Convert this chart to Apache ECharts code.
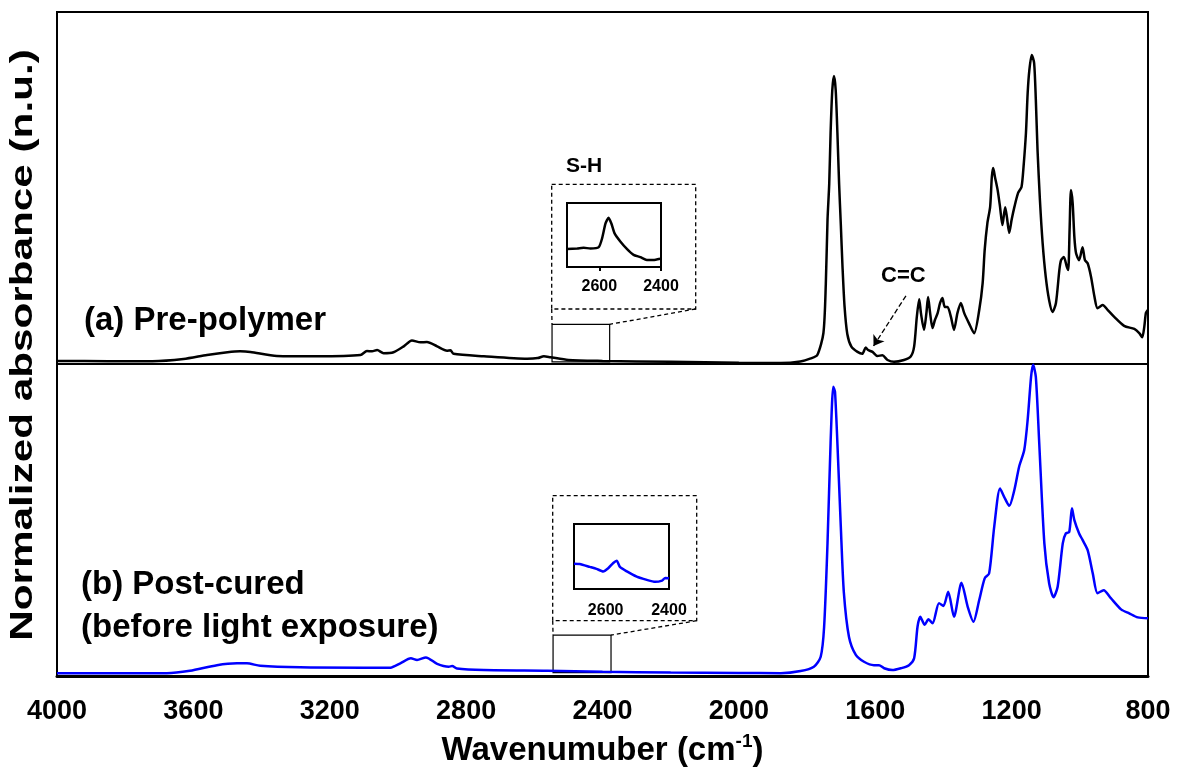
<!DOCTYPE html>
<html>
<head>
<meta charset="utf-8">
<title>FTIR spectra</title>
<script src="https://cdn.jsdelivr.net/npm/echarts@6/dist/echarts.min.js"></script>
<style>
    html, body { margin: 0; padding: 0; background: #fff; }
    #chart { width: 1177px; height: 771px; }
</style>
</head>
<body>
<div id="chart"></div>
<script>
// ============================================
// Data (absorbance normalized to the main peak)
// ============================================
const preWavenumber = [4000, 3850, 3720, 3629, 3560, 3500, 3463, 3433, 3355, 3238, 3110, 3091, 3076, 3061, 3042, 3013,
    2983, 2959, 2934, 2915, 2885, 2856, 2846, 2837, 2748, 2621, 2590, 2572, 2553, 2500, 2400, 2200, 2000, 1877,
    1820, 1789, 1770, 1752, 1745, 1740, 1735, 1731, 1726, 1721, 1716, 1711, 1706, 1701, 1696, 1690, 1682, 1670,
    1652, 1638, 1628, 1621, 1608, 1594, 1579, 1564, 1545, 1516, 1496, 1486, 1478, 1471, 1466, 1457, 1450, 1445,
    1439, 1432, 1425, 1417, 1410, 1403, 1396, 1388, 1378, 1369, 1359, 1349, 1339, 1325, 1310, 1295, 1285, 1279,
    1271, 1263, 1258, 1254, 1249, 1241, 1234, 1227, 1219, 1214, 1207, 1200, 1192, 1181, 1171, 1165, 1158, 1153,
    1148, 1141, 1134, 1129, 1124, 1117, 1109, 1100, 1090, 1080, 1070, 1060, 1055, 1047, 1038, 1034, 1030, 1026,
    1021, 1016, 1011, 1002, 992, 985, 977, 967, 957, 948, 933, 918, 899, 870, 840, 825, 817, 811, 806, 800];
const preAbsorbance = [0.010, 0.009, 0.009, 0.016, 0.029, 0.038, 0.041, 0.039, 0.026, 0.025, 0.029, 0.042, 0.041, 0.045, 0.035, 0.038,
    0.057, 0.076, 0.070, 0.071, 0.057, 0.043, 0.044, 0.033, 0.025, 0.017, 0.019, 0.025, 0.022, 0.013, 0.010, 0.007, 0.004, 0.003,
    0.008, 0.018, 0.029, 0.100, 0.258, 0.465, 0.581, 0.745, 0.884, 0.929, 0.884, 0.745, 0.581, 0.450, 0.313, 0.185, 0.097, 0.056,
    0.039, 0.033, 0.053, 0.045, 0.039, 0.026, 0.028, 0.013, 0.007, 0.013, 0.024, 0.056, 0.153, 0.209, 0.164, 0.110, 0.164, 0.216,
    0.164, 0.116, 0.142, 0.164, 0.196, 0.213, 0.184, 0.184, 0.152, 0.110, 0.164, 0.197, 0.164, 0.131, 0.099, 0.174, 0.261, 0.368,
    0.455, 0.507, 0.604, 0.632, 0.604, 0.561, 0.507, 0.448, 0.506, 0.475, 0.423, 0.465, 0.506, 0.552, 0.571, 0.637, 0.745, 0.873,
    0.948, 0.997, 0.971, 0.852, 0.690, 0.529, 0.389, 0.282, 0.206, 0.168, 0.197, 0.303, 0.335, 0.345, 0.313, 0.303, 0.432, 0.561,
    0.519, 0.410, 0.357, 0.335, 0.377, 0.335, 0.325, 0.281, 0.217, 0.180, 0.190, 0.174, 0.152, 0.123, 0.113, 0.099, 0.086, 0.119, 0.165, 0.175];

const postWavenumber = [4000, 3800, 3678, 3610, 3531, 3472, 3443, 3404, 3287, 3100, 3022, 2993, 2962, 2944, 2918, 2885,
    2851, 2841, 2827, 2748, 2562, 2400, 2200, 2000, 1877, 1819, 1780, 1760, 1750, 1740, 1731, 1723, 1718, 1709,
    1701, 1692, 1677, 1657, 1633, 1604, 1589, 1574, 1550, 1525, 1501, 1486, 1476, 1468, 1455, 1444, 1432, 1413,
    1400, 1386, 1369, 1347, 1329, 1312, 1295, 1279, 1266, 1251, 1234, 1222, 1207, 1192, 1178, 1163, 1153, 1143,
    1137, 1129, 1119, 1104, 1090, 1077, 1065, 1050, 1041, 1031, 1023, 1016, 1002, 992, 977, 962, 948, 930, 909,
    879, 855, 830, 800];
const postAbsorbance = [0.009, 0.009, 0.009, 0.017, 0.035, 0.041, 0.041, 0.033, 0.028, 0.027, 0.027, 0.041, 0.057, 0.052, 0.060, 0.039,
    0.030, 0.032, 0.024, 0.019, 0.017, 0.014, 0.011, 0.010, 0.009, 0.016, 0.030, 0.062, 0.158, 0.429, 0.752, 0.933, 0.916, 0.697,
    0.481, 0.268, 0.126, 0.068, 0.046, 0.035, 0.035, 0.025, 0.019, 0.025, 0.035, 0.057, 0.159, 0.191, 0.165, 0.183, 0.170, 0.235,
    0.226, 0.272, 0.191, 0.301, 0.224, 0.175, 0.245, 0.315, 0.331, 0.482, 0.605, 0.578, 0.549, 0.600, 0.675, 0.729, 0.826, 0.965,
    1.004, 0.965, 0.751, 0.428, 0.299, 0.254, 0.288, 0.428, 0.460, 0.465, 0.541, 0.503, 0.460, 0.439, 0.406, 0.331, 0.267, 0.277, 0.251,
    0.215, 0.202, 0.189, 0.186];

// S-H region insets
const insetPreWavenumber = [2705, 2672, 2651, 2629, 2602, 2591, 2580, 2570, 2561, 2551, 2532, 2510, 2489, 2467, 2446, 2425, 2403];
const insetPreAbsorbance = [0.28, 0.29, 0.30, 0.29, 0.31, 0.45, 0.68, 0.77, 0.68, 0.53, 0.40, 0.28, 0.19, 0.155, 0.11, 0.11, 0.13];
const insetPostWavenumber = [2700, 2682, 2650, 2629, 2608, 2592, 2576, 2565, 2555, 2533, 2502, 2470, 2444, 2422, 2412, 2400];
const insetPostAbsorbance = [0.39, 0.385, 0.34, 0.31, 0.27, 0.32, 0.40, 0.435, 0.34, 0.27, 0.19, 0.14, 0.11, 0.13, 0.17, 0.165];
const insetTicks = [2600, 2400];

// zoom windows marked on the main spectra: [wnFrom, wnTo, absLow, absHigh]
const zoomWindowPre = [2548, 2379, 0.007, 0.128];
const zoomWindowPost = [2545, 2375, 0.011, 0.132];

// C=C arrow: from label to band
const ccArrowFrom = [1510, 0.22];
const ccArrowTo = [1605, 0.058];

// ============================================
// Chart
// ============================================
const FONT = '"Liberation Sans", Arial, sans-serif';
const BLUE = '#0000ff';

const pairs = (xs, ys) => xs.map((x, i) => [x, ys[i]]);

function zoomArea(w) {
    return {
        silent: true,
        itemStyle: { color: 'rgba(0,0,0,0)', borderColor: '#000', borderWidth: 1.2 },
        data: [[{ coord: [w[0], w[3]] }, { coord: [w[1], w[2]] }]]
    };
}

function insetAxis(gridIndex, max, showTick, margin) {
    return {
        gridIndex, type: 'value', min: 2400, max, interval: 200, inverse: true,
        axisLine: { show: false },
        axisTick: {
            show: showTick, inside: false, length: 4, customValues: insetTicks,
            lineStyle: { color: '#000', width: 2 }
        },
        splitLine: { show: false },
        axisLabel: {
            color: '#000', fontSize: 16, fontWeight: 'bold', fontFamily: FONT, margin,
            customValues: insetTicks,
            formatter: v => String(v)
        }
    };
}

const option = {
    animation: false,
    backgroundColor: '#fff',
    grid: [
        { left: 57, right: 29, top: 12, height: 352, show: true, borderColor: '#000', borderWidth: 2 },
        { left: 57, right: 29, top: 364, bottom: 95, show: true, borderColor: '#000', borderWidth: 2 },
        { left: 567, top: 203, width: 94, height: 64, show: true, borderColor: '#000', borderWidth: 2 },
        { left: 574, top: 524, width: 95, height: 65, show: true, borderColor: '#000', borderWidth: 2 }
    ],
    xAxis: [
        { gridIndex: 0, type: 'value', min: 800, max: 4000, inverse: true, show: false },
        {
            gridIndex: 1, type: 'value', min: 800, max: 4000, interval: 400, inverse: true,
            axisLine: { lineStyle: { color: '#000', width: 3 } },
            axisTick: { show: false },
            splitLine: { show: false },
            axisLabel: {
                color: '#000', fontSize: 27, fontWeight: 'bold', fontFamily: FONT, margin: 22,
                formatter: v => String(v)
            },
            name: '{a|Wavenumuber (cm}{s|-1}{a|)}',
            nameLocation: 'middle',
            nameGap: 56,
            nameTextStyle: {
                rich: {
                    a: { fontSize: 33, fontWeight: 'bold', fontFamily: FONT, color: '#000', lineHeight: 38 },
                    s: { fontSize: 19, fontWeight: 'bold', fontFamily: FONT, color: '#000', lineHeight: 20, verticalAlign: 'top' }
                }
            }
        },
        insetAxis(2, 2705, true, 12),
        insetAxis(3, 2700, false, 14)
    ],
    yAxis: [
        { gridIndex: 0, type: 'value', min: 0, max: 352 / 310, show: false },
        { gridIndex: 1, type: 'value', min: 0, max: 312 / 310, show: false },
        { gridIndex: 2, type: 'value', min: 0, max: 1, show: false },
        { gridIndex: 3, type: 'value', min: 0, max: 1, show: false }
    ],
    series: [
        {
            name: 'Pre-polymer', type: 'line', xAxisIndex: 0, yAxisIndex: 0,
            data: pairs(preWavenumber, preAbsorbance),
            showSymbol: false, smooth: 0.25,
            lineStyle: { color: '#000', width: 2.5 },
            markArea: zoomArea(zoomWindowPre),
            markLine: {
                silent: true,
                symbol: ['none', 'arrow'],
                symbolSize: 10,
                label: { show: false },
                lineStyle: { color: '#000', type: 'dashed', width: 1.3 },
                data: [[{ coord: ccArrowFrom }, { coord: ccArrowTo }]]
            }
        },
        {
            name: 'Post-cured', type: 'line', xAxisIndex: 1, yAxisIndex: 1,
            data: pairs(postWavenumber, postAbsorbance),
            showSymbol: false, smooth: 0.25,
            lineStyle: { color: BLUE, width: 2.5 },
            markArea: zoomArea(zoomWindowPost)
        },
        {
            name: 'S-H pre', type: 'line', xAxisIndex: 2, yAxisIndex: 2,
            data: pairs(insetPreWavenumber, insetPreAbsorbance),
            showSymbol: false, smooth: 0.2,
            lineStyle: { color: '#000', width: 2.5 }
        },
        {
            name: 'S-H post', type: 'line', xAxisIndex: 3, yAxisIndex: 3,
            data: pairs(insetPostWavenumber, insetPostAbsorbance),
            showSymbol: false, smooth: 0.2,
            lineStyle: { color: BLUE, width: 2.5 }
        }
    ]
};

const chart = echarts.init(document.getElementById('chart'), null, { renderer: 'canvas' });
chart.setOption(option);

// ============================================
// Annotations: labels, dashed inset frames and connectors
// ============================================
function label(text, x, y, size, extra) {
    return Object.assign({
        type: 'text', x, y, z: 20,
        style: {
            text, fill: '#000', fontSize: size, fontWeight: 'bold', fontFamily: FONT,
            textAlign: 'left', textVerticalAlign: 'middle', align: 'left', verticalAlign: 'middle'
        }
    }, extra || {});
}

const dash = { stroke: '#000', lineWidth: 1.3, lineDash: [4, 3], fill: 'none' };

function insetFrame(box, win, gridIndex) {
    const tl = chart.convertToPixel({ gridIndex }, [win[0], win[3]]);
    const tr = chart.convertToPixel({ gridIndex }, [win[1], win[3]]);
    const bottom = box.y + box.h;
    return [
        { type: 'rect', z: 20, shape: { x: box.x, y: box.y, width: box.w, height: box.h }, style: dash },
        { type: 'line', z: 20, shape: { x1: box.x, y1: bottom, x2: tl[0], y2: tl[1] }, style: dash },
        { type: 'line', z: 20, shape: { x1: box.x + box.w, y1: bottom, x2: tr[0], y2: tr[1] }, style: dash }
    ];
}

chart.setOption({
    graphic: [
        ...insetFrame({ x: 551.7, y: 184.3, w: 144, h: 124.7 }, zoomWindowPre, 0),
        ...insetFrame({ x: 552.7, y: 495.7, w: 144, h: 125 }, zoomWindowPost, 1),
        label('S-H', 566, 166, 21),
        label('C=C', 881, 276, 22),
        label('(a) Pre-polymer', 84, 321, 33),
        label('(b) Post-cured', 81, 585, 33),
        label('(before light exposure)', 81, 628, 33),
        {
            type: 'text', x: 23, y: 345, rotation: Math.PI / 2, scaleX: 1.32, z: 20,
            style: {
                text: 'Normalized absorbance (n.u.)', fill: '#000', fontSize: 32, fontWeight: 'bold', fontFamily: FONT,
                textAlign: 'center', textVerticalAlign: 'middle', align: 'center', verticalAlign: 'middle'
            }
        }
    ]
});

window.addEventListener('resize', () => chart.resize());
</script>
</body>
</html>
